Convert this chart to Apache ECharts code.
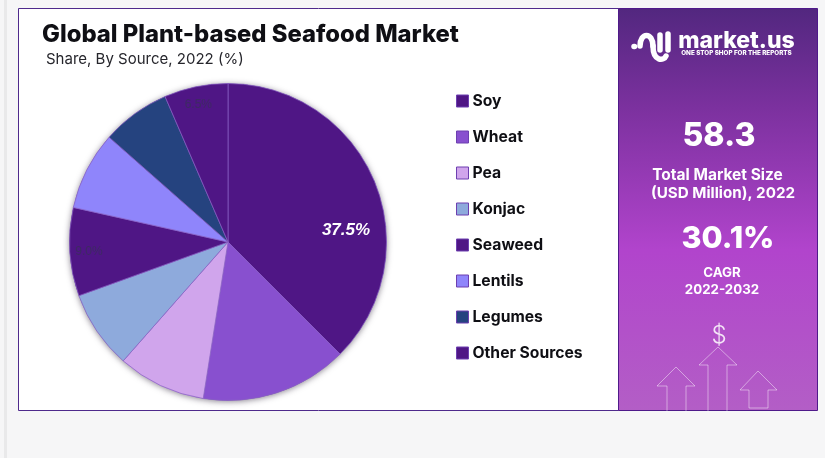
<!DOCTYPE html>
<html>
<head>
<meta charset="utf-8">
<style>html,body{margin:0;padding:0;background:#f6f6f7}#chart{width:825px;height:458px}</style>
<script src="https://cdn.jsdelivr.net/npm/echarts@6/dist/echarts.min.js"></script>
</head>
<body>
<div id="chart"></div>
<script>
const categories = ['Soy', 'Wheat', 'Pea', 'Konjac', 'Seaweed', 'Lentils', 'Legumes', 'Other Sources'];
const shares = [37.5, 15.0, 9.0, 8.0, 9.0, 8.0, 7.0, 6.5];
const sliceColors = ['#4f1685', '#8850cf', '#d0a5ec', '#8eaadc', '#4f1685', '#8f85fb', '#25437f', '#4f1685'];
const titleText = 'Global Plant-based Seafood Market';
const subtitleText = 'Share, By Source, 2022 (%)';
const marketSize = '58.3';
const cagr = '30.1%';

const FONT = 'Inter, "Noto Sans", sans-serif';
const PIE_CENTER = [228, 242];
const PIE_RADIUS = 158.5;
const INK = '#0f0f14';

// Only three slices carry a printed share; each one sits at its own offset.
const sliceLabels = {
  0: { color: '#ffffff', fontStyle: 'italic', fontWeight: 700, fontSize: 17, offset: [42, 20] },
  4: { color: '#3e2a63', fontWeight: 400, fontSize: 12, offset: [-57, 5] },
  7: { color: '#3e2a63', fontWeight: 400, fontSize: 12, offset: [-13, -57] }
};

const pieData = categories.map((name, i) => ({
  name,
  value: shares[i],
  itemStyle: { color: sliceColors[i] },
  label: sliceLabels[i]
    ? Object.assign({ show: true, position: 'inner', formatter: p => p.value.toFixed(1) + '%' }, sliceLabels[i])
    : { show: false }
}));

const panelText = (text, x, y, size, weight, extra) => ({
  type: 'text',
  silent: true,
  z: 5,
  style: Object.assign({
    text, x, y,
    fill: '#ffffff',
    font: `${weight} ${size}px ${FONT}`,
    textAlign: 'center',
    textVerticalAlign: 'middle'
  }, extra || {})
});

const outline = points => ({
  type: 'polyline',
  silent: true,
  z: 4,
  shape: { points },
  style: { fill: 'none', stroke: 'rgba(255,255,255,0.45)', lineWidth: 1 }
});

const logoStyle = { fill: 'none', stroke: '#ffffff', lineWidth: 5.5, lineCap: 'round', lineJoin: 'round' };
const logoCurve = shape => ({ type: 'bezierCurve', silent: true, z: 5, shape, style: logoStyle });
const logoLine = points => ({ type: 'polyline', silent: true, z: 5, shape: { points }, style: logoStyle });

const numberShadow = { shadowBlur: 4, shadowColor: 'rgba(40,10,70,0.7)', shadowOffsetX: 1, shadowOffsetY: 2 };

const chart = echarts.init(document.getElementById('chart'), null, { renderer: 'canvas' });
chart.setOption({
  animation: false,
  backgroundColor: '#f6f6f7',
  title: [
    { text: titleText, left: 37, top: 18, textStyle: { fontFamily: FONT, fontSize: 23.8, fontWeight: 800, color: INK } },
    { text: subtitleText, left: 41, top: 47, textStyle: { fontFamily: FONT, fontSize: 15, fontWeight: 400, color: '#26262c' } }
  ],
  legend: {
    data: categories,
    orient: 'vertical',
    left: 451,
    top: 88,
    itemWidth: 12,
    itemHeight: 12,
    itemGap: 20,
    icon: 'rect',
    selectedMode: false,
    itemStyle: { borderColor: '#6d3fb0', borderWidth: 1 },
    textStyle: { fontFamily: FONT, fontSize: 15.7, fontWeight: 700, color: INK, lineHeight: 16, padding: [0, 0, 0, -1] }
  },
  series: [
    {
      // Soft drop shadow behind the whole disc
      type: 'pie',
      silent: true,
      z: 1,
      center: PIE_CENTER,
      radius: [0, PIE_RADIUS],
      label: { show: false },
      labelLine: { show: false },
      data: [{ name: 'total', value: shares.reduce((a, b) => a + b, 0) }],
      itemStyle: { color: '#7a5aa8', shadowBlur: 6, shadowColor: 'rgba(50,40,60,0.6)', shadowOffsetY: 1 }
    },
    {
      type: 'pie',
      z: 2,
      center: PIE_CENTER,
      radius: [0, PIE_RADIUS],
      startAngle: 90,
      clockwise: true,
      data: pieData,
      labelLine: { show: false },
      itemStyle: { borderColor: '#8a62c4', borderWidth: 0.7 }
    }
  ],
  graphic: [
    // Page frame
    { type: 'rect', silent: true, z: -3, shape: { x: 4, y: 0, width: 3, height: 458 }, style: { fill: '#e9e9ea' } },
    { type: 'rect', silent: true, z: -2, shape: { x: 18.5, y: 8.5, width: 600, height: 402 }, style: { fill: '#ffffff', stroke: '#4f2a8c', lineWidth: 1 } },
    // Side panel
    {
      type: 'rect', silent: true, z: 3,
      shape: { x: 618.5, y: 8.5, width: 199, height: 402 },
      style: {
        stroke: '#4f1a8a',
        lineWidth: 1,
        fill: new echarts.graphic.LinearGradient(0, 0, 0, 1, [
          { offset: 0, color: '#52277f' },
          { offset: 0.25, color: '#7c319f' },
          { offset: 0.6, color: '#b144cc' },
          { offset: 1, color: '#b35ec6' }
        ])
      }
    },
    // Logo mark and wordmark
    logoLine([[634, 46.5], [634.5, 46.5]]),
    logoCurve({ x1: 640, y1: 46, cpx1: 640, cpy1: 32, cpx2: 653, cpy2: 32, x2: 653, y2: 46 }),
    logoCurve({ x1: 653, y1: 46, cpx1: 653, cpy1: 62, cpx2: 664, cpy2: 61, x2: 666, y2: 56 }),
    logoLine([[660, 35], [660, 50]]),
    logoLine([[668, 34], [668, 50]]),
    panelText('market.us', 736.5, 41, 23, 800),
    panelText('ONE STOP SHOP FOR THE REPORTS', 736.5, 53, 6.3, 800),
    // Headline figures
    panelText(marketSize, 719, 136, 32, 800, numberShadow),
    panelText('Total Market Size', 717.5, 175, 15.5, 700),
    panelText('(USD Million), 2022', 723, 193, 15.2, 700),
    panelText(cagr, 728, 238.5, 30.5, 800, numberShadow),
    panelText('CAGR', 722, 272.5, 13.3, 700),
    panelText('2022-2032', 722, 289.5, 13.3, 700),
    // Rising-arrows motif
    panelText('$', 719, 335.5, 24, 300, { fill: 'rgba(255,255,255,0.85)' }),
    outline([[667, 411], [667, 386], [657, 386], [676, 367], [695, 386], [686, 386], [686, 411]]),
    outline([[708, 411], [708, 365], [699, 365], [718, 347], [737, 365], [727, 365], [727, 411]]),
    outline([[749, 408], [768, 408], [768, 390], [777, 390], [758, 371], [740, 390], [749, 390], [749, 408]])
  ]
});
</script>
</body>
</html>
